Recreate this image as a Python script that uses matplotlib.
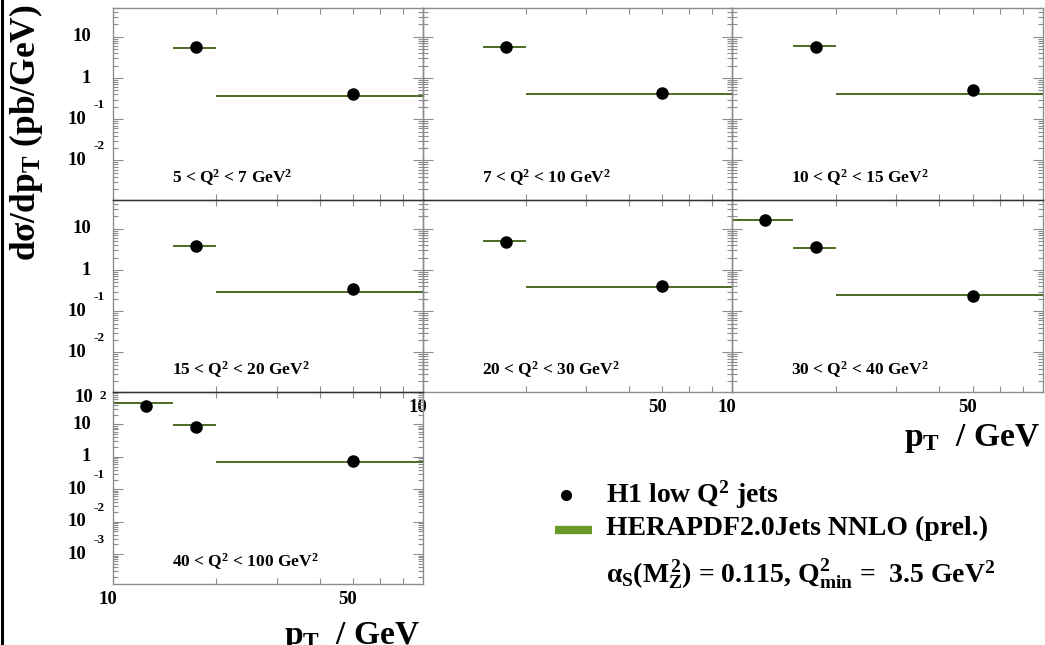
import matplotlib
matplotlib.use('Agg')
import numpy as np
import matplotlib.pyplot as plt
import matplotlib.transforms as mtransforms
from matplotlib.lines import Line2D
from matplotlib.ticker import FixedLocator, LogLocator, NullFormatter

plt.rcParams['font.family'] = 'Liberation Serif'
plt.rcParams['font.weight'] = 'bold'
plt.rcParams['mathtext.fontset'] = 'custom'
plt.rcParams['mathtext.rm'] = 'Liberation Serif:bold'
plt.rcParams['mathtext.it'] = 'Liberation Serif:bold'
plt.rcParams['mathtext.bf'] = 'Liberation Serif:bold'

# Q^2 bin labels, one panel per bin.
qLabels = ['5 < Q$^2$ < 7 GeV$^2$', '7 < Q$^2$ < 10 GeV$^2$',
           '10 < Q$^2$ < 15 GeV$^2$', '15 < Q$^2$ < 20 GeV$^2$',
           '20 < Q$^2$ < 30 GeV$^2$', '30 < Q$^2$ < 40 GeV$^2$',
           '40 < Q$^2$ < 100 GeV$^2$']

# pT bin edges (GeV) in each Q^2 bin.
ptLow = [[15, 20], [15, 20], [15, 20], [15, 20], [15, 20],
         [10, 15, 20], [10, 15, 20]]
ptHigh = [[20, 80], [20, 80], [20, 80], [20, 80], [20, 80],
          [15, 20, 80], [15, 20, 80]]

# Measured cross sections dsigma/dpT (pb/GeV).
h1Data = [[5.7, 0.42], [5.7, 0.44], [5.6, 0.50], [3.9, 0.34], [4.8, 0.40],
          [16.5, 3.7, 0.24], [37.0, 8.1, 0.75]]

# HERAPDF2.0Jets NNLO prediction per bin.
herapdf = [[5.5, 0.36], [5.7, 0.40], [6.0, 0.42], [3.9, 0.29], [5.0, 0.38],
           [16.5, 3.5, 0.25], [45.0, 9.3, 0.70]]

W, H = 1045, 645
colLeft = [113, 423, 732]
colRight = [423, 732, 1043]
rowTop = [8, 200, 392]
rowBot = [200, 392, 584]
panelPos = [(0, 0), (1, 0), (2, 0), (0, 1), (1, 1), (2, 1), (0, 2)]

lineCol = '#4b6b22'
legCol = '#6b9a28'
frameCol = '#8c8c8c'
tickSize = 13.5

fig = plt.figure(figsize=(W / 100, H / 100), dpi=100)


def addText(ax, trans, dx, dy, x, y, s, **kw):
    t = mtransforms.offset_copy(trans, fig=fig, x=dx, y=dy, units='dots')
    ax.text(x, y, s, transform=t, clip_on=False, zorder=10, **kw)


def yTickLabels(ax, decades):
    trans = ax.get_yaxis_transform()
    for d in decades:
        v = 10.0 ** d
        if d == 1:
            addText(ax, trans, -22, 0, 0, v, '10', ha='right', va='center',
                    fontsize=tickSize)
        elif d == 0:
            addText(ax, trans, -22, 0, 0, v, '1', ha='right', va='center',
                    fontsize=tickSize)
        elif d == 2:
            addText(ax, trans, -20, -6, 0, v, '10', ha='right',
                    va='center', fontsize=tickSize)
            addText(ax, trans, -14, -4, 0, v, '2', ha='left',
                    va='center', fontsize=9.5)
        else:
            addText(ax, trans, -27, 0, 0, v, '10', ha='right',
                    va='center', fontsize=tickSize)
            addText(ax, trans, -20, 14, 0, v, '%d' % d, ha='left',
                    va='center', fontsize=9.5)


def xTickLabels(ax):
    trans = ax.get_xaxis_transform()
    for v in [10, 50]:
        addText(ax, trans, -5, -15, v, 0, '%d' % v, ha='center',
                va='center', fontsize=tickSize)


for i, (c, r) in enumerate(panelPos):
    ax = fig.add_axes([colLeft[c] / W, 1 - rowBot[r] / H,
                       (colRight[c] - colLeft[c]) / W,
                       (rowBot[r] - rowTop[r]) / H])
    ax.patch.set_visible(False)
    ax.set_xscale('log')
    ax.set_yscale('log')
    ax.set_xlim(10, 80)
    if r == 2:
        ax.set_ylim(1.2e-4, 100)
    else:
        ax.set_ylim(1.1e-3, 50)

    lo = np.array(ptLow[i])
    hi = np.array(ptHigh[i])
    centre = 0.5 * (lo + hi)
    ax.hlines(herapdf[i], lo, hi, color=lineCol, lw=1.4, zorder=2)
    ax.plot(centre, h1Data[i], 'o', color='black', ms=8, zorder=3)

    ax.text(0.19, 0.115, qLabels[i], transform=ax.transAxes,
            fontsize=12.5, ha='left', va='center')

    # ticks drawn inside on all four sides
    ax.xaxis.set_major_locator(FixedLocator([20, 30, 40, 50, 60, 70]))
    ax.xaxis.set_minor_locator(FixedLocator([]))
    ax.xaxis.set_major_formatter(NullFormatter())
    ax.xaxis.set_minor_formatter(NullFormatter())
    ax.yaxis.set_major_locator(LogLocator(base=10, numticks=20))
    ax.yaxis.set_minor_locator(LogLocator(base=10, subs=np.arange(2, 10),
                                          numticks=20))
    ax.yaxis.set_major_formatter(NullFormatter())
    ax.yaxis.set_minor_formatter(NullFormatter())
    ax.tick_params(axis='both', which='both', direction='in', top=True,
                   right=True, color=frameCol, width=0.8)
    ax.tick_params(axis='x', which='major', length=4)
    ax.tick_params(axis='y', which='major', length=7)
    ax.tick_params(axis='y', which='minor', length=3.5)
    for sp in ax.spines.values():
        sp.set_color(frameCol)
        sp.set_linewidth(1.0)
    if r > 0:
        ax.spines['top'].set_color('#333333')

    if c == 0:
        if r == 2:
            yTickLabels(ax, [2, 1, 0, -1, -2, -3])
        else:
            yTickLabels(ax, [1, 0, -1, -2])
    if (r == 1 and c > 0) or r == 2:
        xTickLabels(ax)

    if r == 1 and c == 2:
        addText(ax, ax.transAxes, -3, -30, 1.0, 0.0, 'p$_{T}$  / GeV',
                ha='right', va='top', fontsize=24)
    if r == 2:
        addText(ax, ax.transAxes, -3, -36, 1.0, 0.0, 'p$_{T}$  / GeV',
                ha='right', va='top', fontsize=24)

# y-axis title
fig.text(26 / W, 1 - 133 / H, 'd$\\sigma$/dp$_{T}$ (pb/GeV)', rotation=90,
         ha='center', va='center', fontsize=25.5)

# legend
fig.add_artist(Line2D([566 / W], [1 - 495 / H], marker='o', color='black',
                      ms=7, ls='none'))
fig.add_artist(Line2D([555 / W, 592 / W], [1 - 530 / H, 1 - 530 / H],
                      color=legCol, lw=6, solid_capstyle='butt'))
fig.text(606 / W, 1 - 503 / H, 'H1 low Q$^{2}$ jets', fontsize=20,
         ha='left', va='baseline')
fig.text(606 / W, 1 - 535 / H, 'HERAPDF2.0Jets NNLO (prel.)', fontsize=20,
         ha='left', va='baseline')
fig.text(606 / W, 1 - 583 / H,
         '$\\alpha_{S}(M_{Z}^{2})$ = 0.115, Q$^{2}_{min}$ =  3.5 GeV$^{2}$',
         fontsize=20, ha='left', va='baseline')

# page frame on the left
fig.add_artist(Line2D([1.5 / W, 1.5 / W], [0, 1], color='black', lw=2.2))

fig.savefig('out.png', dpi=100)
